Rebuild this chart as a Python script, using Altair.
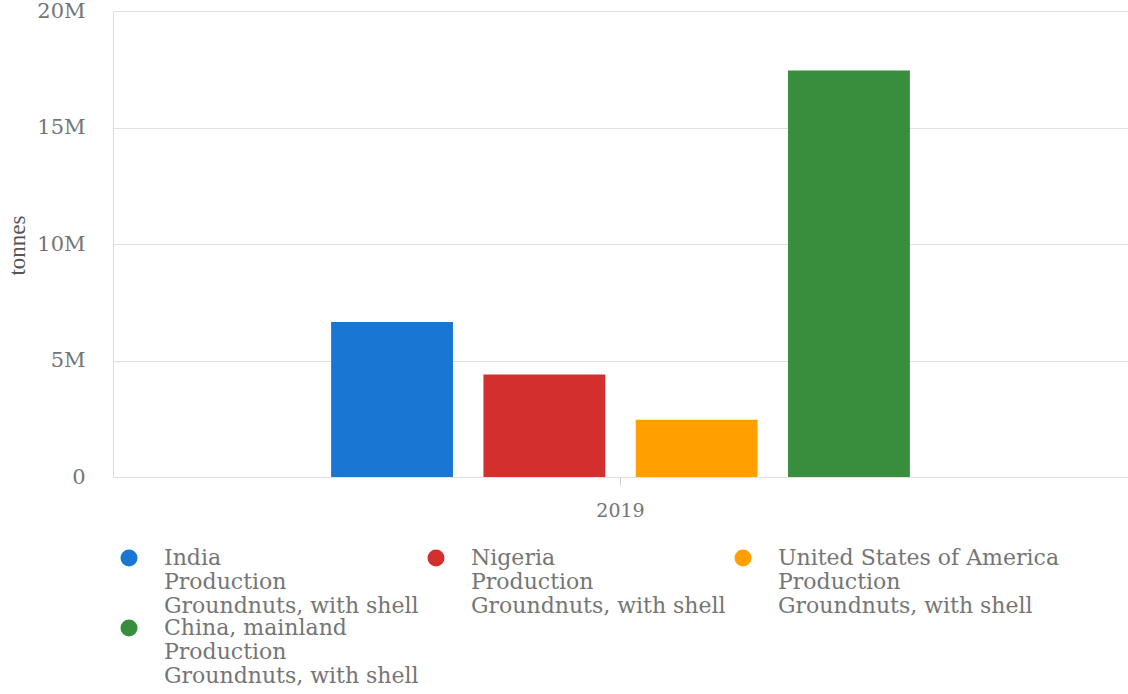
import altair as alt
import pandas as pd

countries = ["India", "Nigeria", "United States of America", "China, mainland"]
values = [6650000, 4400000, 2460000, 17450000]
years = ["2019"] * 4
colors = ["#1976D2", "#D32F2F", "#FFA000", "#388E3C"]
element = "Production"
item = "Groundnuts, with shell"

df = pd.DataFrame({"year": years, "country": countries, "value": values})

FONT = "DejaVu Serif"
GRAY = "#757575"

chart = (
    alt.Chart(df)
    .mark_bar()
    .encode(
        x=alt.X(
            "year:N",
            title=None,
            scale=alt.Scale(paddingInner=0, paddingOuter=0.333),
            axis=alt.Axis(
                labelAngle=0, domain=False, domainColor="transparent",
                ticks=True, tickSize=8, tickColor="#cccccc",
                labelFont=FONT, labelFontSize=19, labelColor=GRAY, labelPadding=16,
                grid=False, gridColor="transparent",
            ),
        ),
        xOffset=alt.XOffset(
            "country:N", sort=countries,
            scale=alt.Scale(paddingInner=0.2, paddingOuter=0.1),
        ),
        y=alt.Y(
            "value:Q",
            title="tonnes",
            scale=alt.Scale(domain=[0, 20000000]),
            axis=alt.Axis(
                values=[0, 5000000, 10000000, 15000000, 20000000],
                labelExpr="datum.value == 0 ? '0' : (datum.value / 1000000) + 'M'",
                domain=False, domainColor="transparent",
                ticks=False, tickColor="transparent", labelPadding=28,
                labelFont=FONT, labelFontSize=21, labelColor=GRAY,
                gridColor="#e0e0e0", gridWidth=1,
                titleFont="Liberation Serif", titleFontSize=23, titleColor="#555555",
                titleFontWeight="normal", titleAngle=-90, titleX=-96, titleY=234,
                titleAlign="center", titleBaseline="middle",
            ),
        ),
        color=alt.Color(
            "country:N",
            sort=countries,
            scale=alt.Scale(domain=countries, range=colors),
            legend=alt.Legend(
                title=None, orient="none", legendX=5, legendY=536,
                direction="horizontal", columns=3,
                symbolType="circle", symbolSize=290, symbolStrokeWidth=0,
                labelFont=FONT, labelFontSize=22, labelColor=GRAY,
                labelOffset=24, labelLimit=500, columnPadding=6, rowPadding=0,
                labelBaseline="middle",
                labelExpr="[datum.label, '" + element + "', '" + item + "']",
            ),
        ),
    )
    .properties(
        width=1015, height=466,
        autosize=alt.AutoSizeParams(type="none"),
        padding={"left": 113, "top": 11, "right": 0, "bottom": 217},
    )
    .configure_view(stroke="transparent", strokeWidth=0)
    .configure_axisY(domain=False, domainColor="transparent")
    .configure(background="white")
)

chart.save("out.html", embed_options={"renderer": "svg", "actions": False})
